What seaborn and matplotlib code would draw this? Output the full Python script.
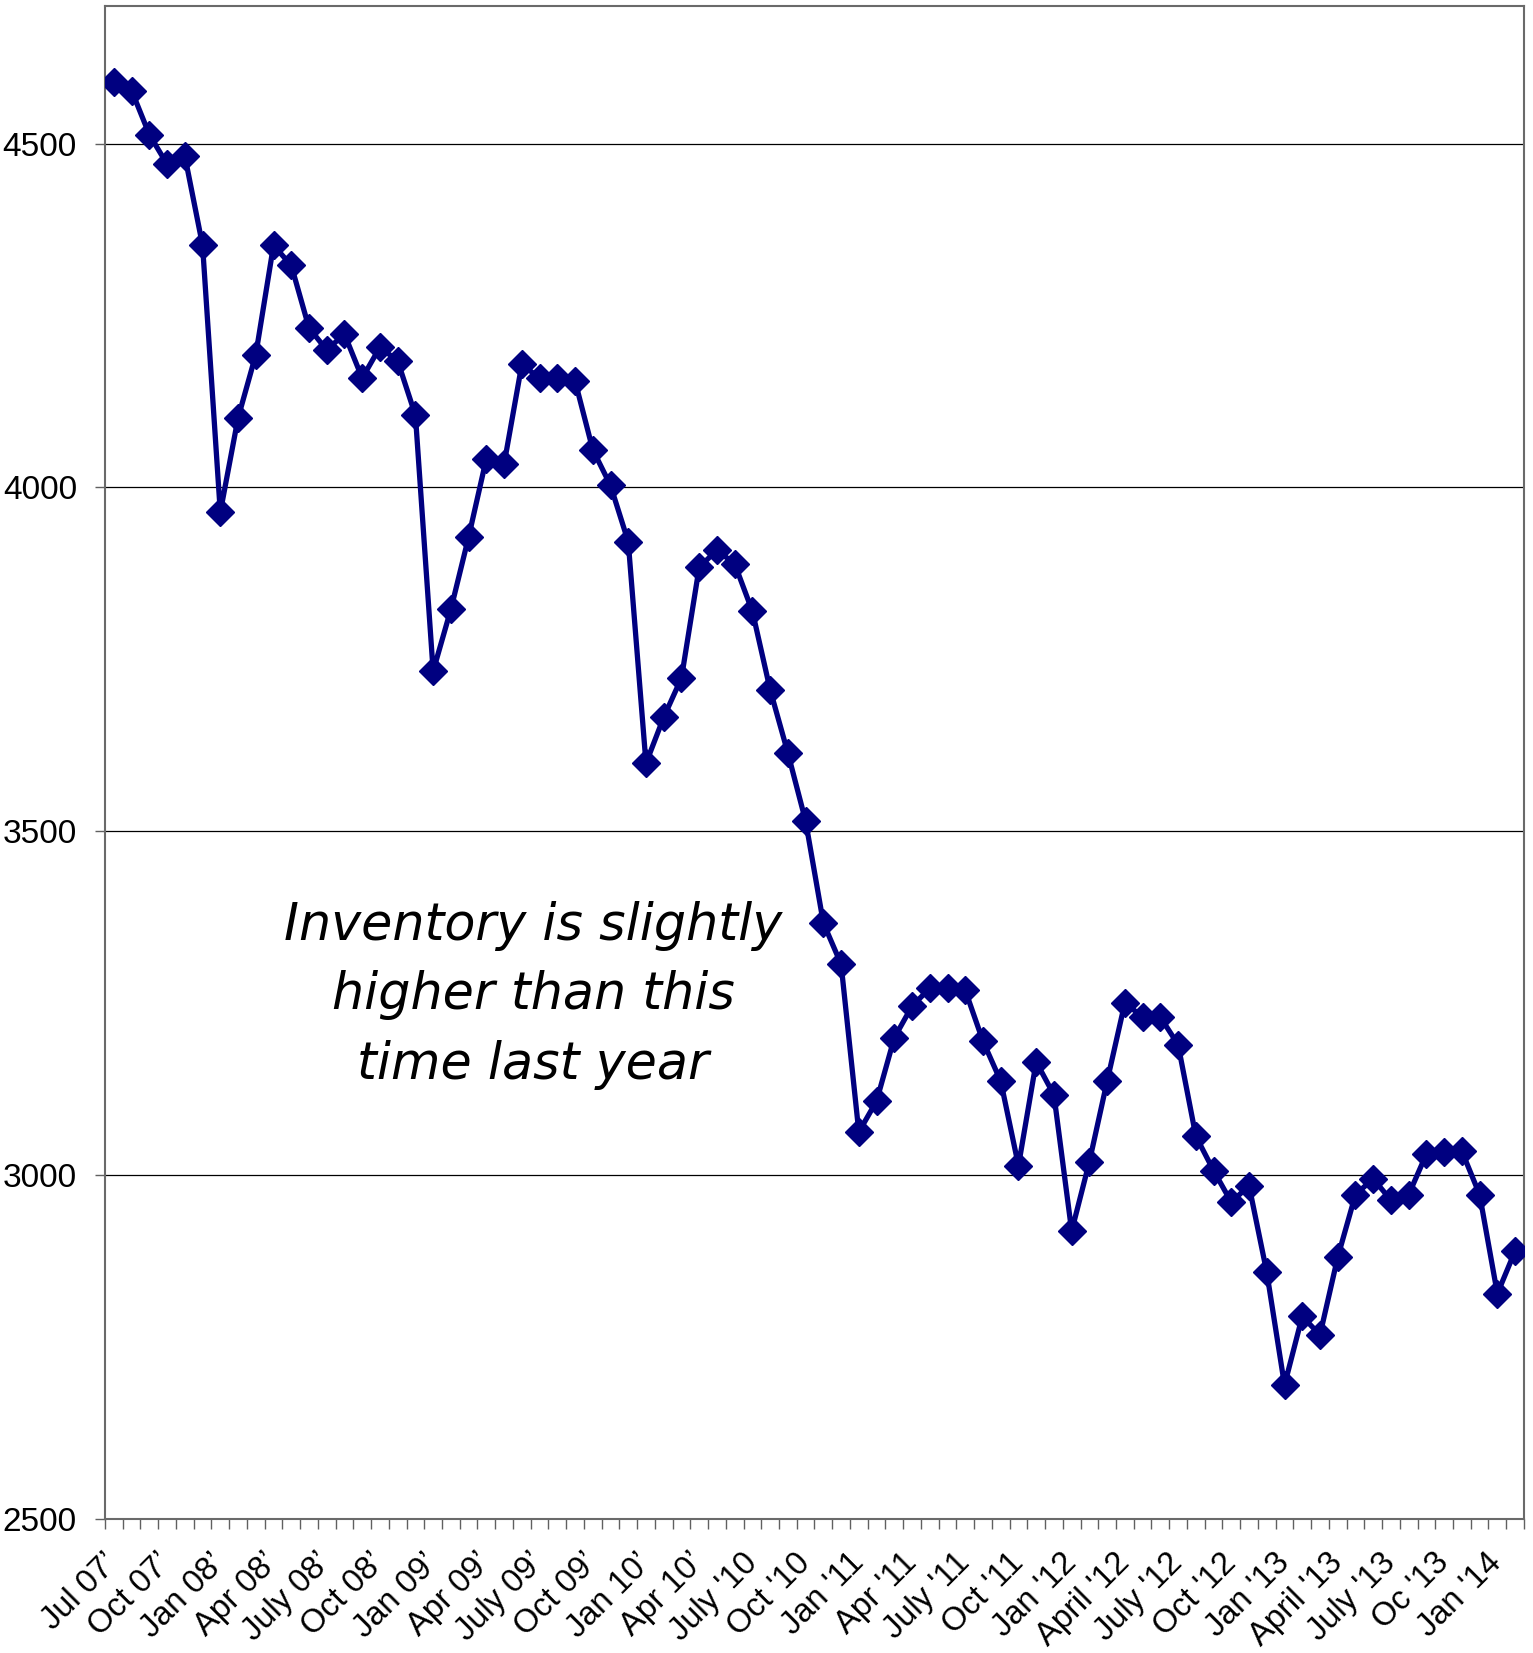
import numpy as np
import pandas as pd
import matplotlib
matplotlib.use("Agg")
import matplotlib.pyplot as plt
import seaborn as sns
from matplotlib.ticker import FixedLocator

# Monthly inventory, July 2007 through February 2014
month_index = list(range(80))
inventory = [
    4590, 4577, 4513, 4470, 4482, 4352, 3964, 4101, 4193, 4352,
    4323, 4232, 4200, 4223, 4159, 4204, 4184, 4105, 3733, 3823,
    3928, 4042, 4034, 4179, 4159, 4159, 4155, 4055, 4003, 3921,
    3599, 3666, 3723, 3884, 3909, 3889, 3820, 3706, 3614, 3515,
    3367, 3307, 3063, 3108, 3200, 3246, 3272, 3272, 3269, 3195,
    3137, 3014, 3165, 3117, 2919, 3020, 3137, 3251, 3230, 3230,
    3190, 3057, 3007, 2961, 2985, 2859, 2695, 2795, 2768, 2881,
    2972, 2995, 2964, 2972, 3031, 3034, 3035, 2972, 2828, 2890,
]

# Quarterly category labels
tick_positions = list(range(0, 80, 3))
tick_labels = [
    "Jul 07\u2019", "Oct 07\u2019", "Jan 08\u2019", "Apr 08\u2019", "July 08\u2019",
    "Oct 08\u2019", "Jan 09\u2019", "Apr 09\u2019", "July 09\u2019", "Oct 09\u2019",
    "Jan 10\u2019", "Apr 10\u2019", "July '10", "Oct '10", "Jan '11", "Apr '11",
    "July '11", "Oct '11", "Jan '12", "April '12", "July '12", "Oct '12",
    "Jan '13", "April '13", "July '13", "Oc '13", "Jan '14",
]
y_ticks = [2500, 3000, 3500, 4000, 4500]

note = "Inventory is slightly\nhigher than this\ntime last year"

sns.set_theme(style="white")
plt.rcParams["font.family"] = ["Liberation Sans", "DejaVu Sans"]

df = pd.DataFrame({"month": month_index, "inventory": inventory})

fig = plt.figure(figsize=(15.33, 16.53), dpi=100)
ax = fig.add_axes([0.0685, 0.0809, 0.9941 - 0.0685, 0.99637 - 0.0809])

sns.lineplot(
    data=df, x="month", y="inventory", ax=ax,
    color="#000080", linewidth=3.8, marker="D", markersize=14,
    markeredgecolor="#000080", markeredgewidth=1.0, zorder=3,
)

ax.set_xlim(-0.5, 79.5)
ax.set_ylim(2500, 4700)
ax.set_xlabel("")
ax.set_ylabel("")

# Horizontal gridlines
ax.set_yticks(y_ticks)
ax.set_yticklabels([str(v) for v in y_ticks])
ax.yaxis.grid(True, color="#000000", linewidth=0.9)
ax.xaxis.grid(False)
ax.set_axisbelow(True)

# Category labels at every third month, tick marks between categories
ax.set_xticks(tick_positions)
ax.set_xticklabels(tick_labels, rotation=45, ha="right", va="center",
                   rotation_mode="anchor")
ax.xaxis.set_minor_locator(FixedLocator(np.arange(-0.5, 80, 1.0)))
ax.tick_params(axis="x", which="major", length=0, pad=28,
               labelsize=23.5, labelcolor="black")
ax.tick_params(axis="x", which="minor", bottom=True, length=7.2, width=1.0,
               direction="out", color="#606060")
ax.tick_params(axis="y", which="major", left=True, length=7.2, width=1.0,
               direction="out", color="#606060", pad=13,
               labelsize=24, labelcolor="black")

for side in ["left", "right", "top", "bottom"]:
    ax.spines[side].set_visible(True)
    ax.spines[side].set_color("#6a6a6a")
    ax.spines[side].set_linewidth(1.5)

ax.text(23.65, 3262, note, transform=ax.transData, ha="center", va="center",
        multialignment="center", fontsize=36.5, fontstyle="oblique",
        family=["DejaVu Sans"], linespacing=1.5, color="black",
        zorder=4)

fig.savefig("out.png", dpi=100)
